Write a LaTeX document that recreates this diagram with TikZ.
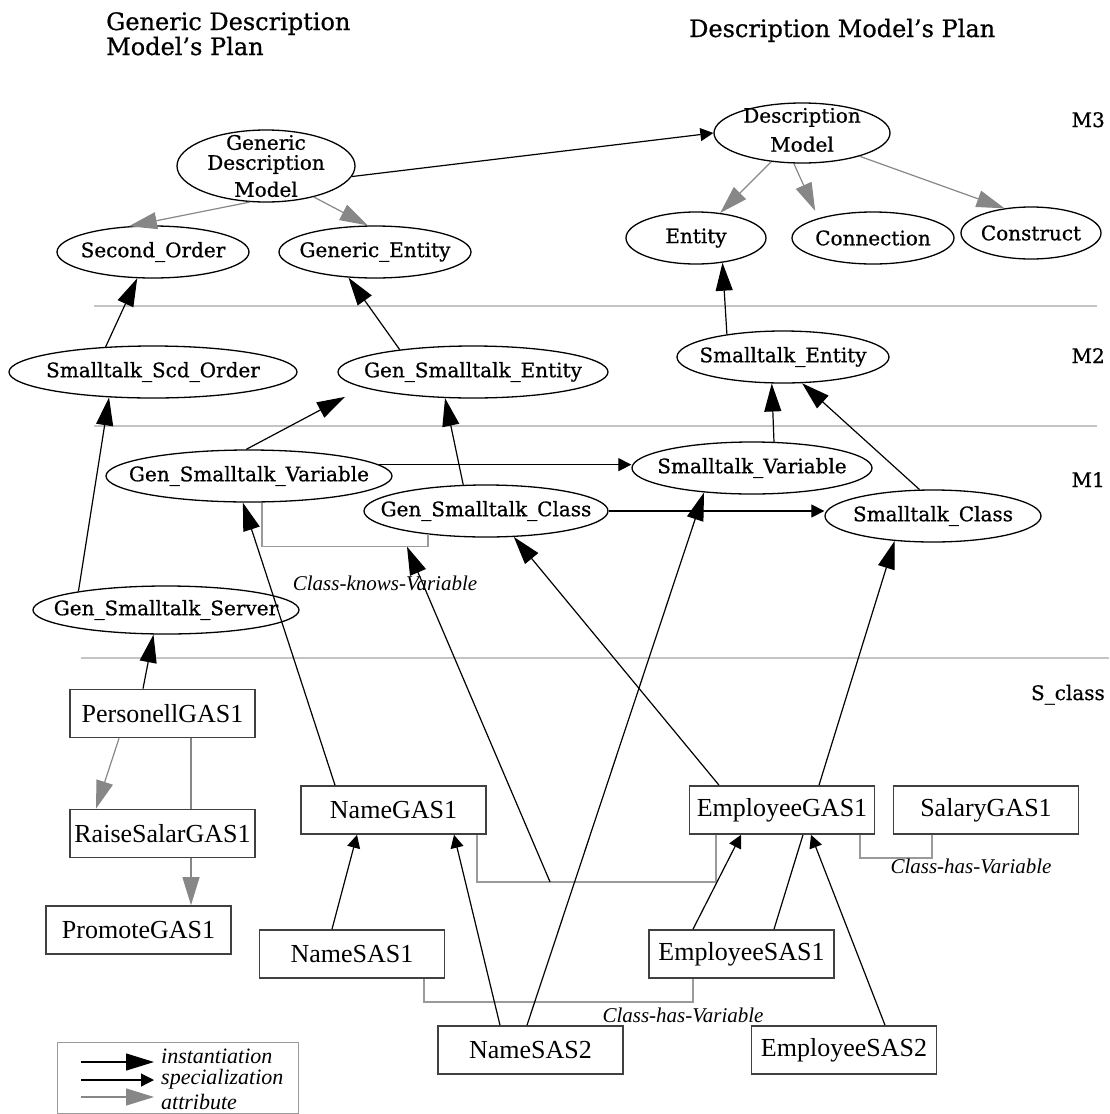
\documentclass[tikz,border=0pt]{standalone}
\usepackage{fontspec}
\setmainfont{Liberation Serif}
\newfontfamily\dvs[FakeBold=0.7]{DejaVu Serif}
\usetikzlibrary{arrows.meta,shapes.geometric,calc}

\definecolor{sepgray}{HTML}{C4C4C4}
\definecolor{attrgray}{HTML}{878787}
\definecolor{brgray}{HTML}{9A9A9A}
\definecolor{boxline}{HTML}{404040}

\begin{document}
\begin{tikzpicture}[x=1pt,y=-1pt,
  etext/.style={font=\dvs\fontsize{20}{20}\selectfont, inner sep=0pt, align=center},
  ell/.style n args={3}{ellipse, draw, line width=1.3pt, inner sep=0pt,
    minimum width=#1, minimum height=#2, label={[etext]center:#3}},
  gbox/.style={rectangle, draw=boxline, line width=1.7pt, minimum width=185pt,
    minimum height=48pt, inner sep=0pt, font=\fontsize{26}{28}\selectfont},
  inst/.style={draw=black, line width=1.2pt, -{Triangle[length=28pt,width=17pt]}},
  spec/.style={draw=black, line width=1.2pt, -{Triangle[length=13pt,width=13pt]}},
  attr/.style={draw=attrgray, line width=1.2pt, -{Triangle[length=28pt,width=17pt]}},
  blackline/.style={draw=black, line width=1.2pt},
  attrline/.style={draw=attrgray, line width=1.2pt},
  bracket/.style={draw=brgray, line width=1.5pt},
  sepline/.style={draw=sepgray, line width=2pt},
  ttl/.style={font=\dvs\fontsize{24}{25}\selectfont, inner sep=0pt},
  lvl/.style={font=\dvs\fontsize{20}{20}\selectfont, inner sep=0pt},
  lbl/.style={font=\itshape\fontsize{21}{22}\selectfont, inner sep=0pt},
  legtext/.style={font=\itshape\fontsize{22}{22}\selectfont, inner sep=0pt}
]
\useasboundingbox (0,0) rectangle (1109,1114);

% plan titles
\node[ttl, anchor=base west] (t1a) at (106,30) {Generic Description};
\node[ttl, anchor=base west] (t1b) at (106,55) {Model’s Plan};
\node[ttl, anchor=base west] (t2) at (689,37) {Description Model’s Plan};

% level separators and level names
\draw[sepline] (94,306) -- (1097,306);
\draw[sepline] (94,426) -- (1097,426);
\draw[sepline] (81,658) -- (1109,658);
\node[lvl, anchor=base east] (m3) at (1105,127) {M3};
\node[lvl, anchor=base east] (m2) at (1105,363) {M2};
\node[lvl, anchor=base east] (m1) at (1105,487) {M1};
\node[lvl, anchor=base east] (scl) at (1105,700) {S\_class};

% M3
\node[ell={178pt}{72pt}{Generic\\Description\\[7pt]Model}] (gdm) at (266,166) {};
\node[ellipse, draw, line width=1.3pt, inner sep=0pt, minimum width=176pt, minimum height=60pt,
  label={[etext,yshift=3pt]center:Description\\[9pt]Model}] (dm) at (802,133) {};
\node[ell={192pt}{52pt}{Second\_Order}] (so) at (153,252) {};
\node[ell={192pt}{52pt}{Generic\_Entity}] (ge) at (375,252) {};
\node[ell={140pt}{52pt}{Entity}] (ent) at (696,238) {};
\node[ell={162pt}{52pt}{Connection}] (con) at (873,238) {};
\node[ell={140pt}{52pt}{Construct}] (cst) at (1031,233) {};

% M2
\node[ell={288pt}{52pt}{Smalltalk\_Scd\_Order}] (sso) at (153,372) {};
\node[ell={270pt}{52pt}{Gen\_Smalltalk\_Entity}] (gse) at (473,372) {};
\node[ell={212pt}{52pt}{Smalltalk\_Entity}] (se) at (783,357) {};

% M1
\node[ell={286pt}{52pt}{Gen\_Smalltalk\_Variable}] (gsv) at (249,476) {};
\node[ell={240pt}{52pt}{Smalltalk\_Variable}] (sv) at (752,468) {};
\node[ell={244pt}{52pt}{Gen\_Smalltalk\_Class}] (gsc) at (486,511) {};
\node[ell={216pt}{52pt}{Smalltalk\_Class}] (sc) at (933,516) {};
\node[ell={266pt}{48pt}{Gen\_Smalltalk\_Server}] (gss) at (166,610) {};

% S_class
\node[gbox] (pers) at (162.5,713.5) {PersonellGAS1};
\node[gbox] (raise) at (162.5,833.5) {RaiseSalarGAS1};
\node[gbox] (prom) at (138.5,930) {PromoteGAS1};
\node[gbox] (ng1) at (393.5,810) {NameGAS1};
\node[gbox] (eg1) at (782,810) {EmployeeGAS1};
\node[gbox] (sg1) at (986,810) {SalaryGAS1};
\node[gbox] (ns1) at (352,954) {NameSAS1};
\node[gbox] (es1) at (741.5,954) {EmployeeSAS1};
\node[gbox] (ns2) at (530.5,1050) {NameSAS2};
\node[gbox] (es2) at (844,1050) {EmployeeSAS2};

% attribute connections drawn as brackets
\draw[bracket] ([xshift=13pt]gsv.south) -- ++(0,44) coordinate (ckvA) -| (gsc.202);
\coordinate (ckvTip) at ($(ckvA)+(145,0)$);
\draw[bracket] ([xshift=83.5pt]ng1.south) -- ++(0,47) coordinate (chvA) -| ([xshift=-66pt]eg1.south);
\coordinate (chvMid) at ($(chvA)+(73,0)$);
\draw[bracket] ([xshift=78pt]eg1.south) -- ++(0,23) -| ([xshift=-54pt]sg1.south);
\draw[bracket] ([xshift=72pt]ns1.south) -- ++(0,23) -| ([xshift=-48.5pt]es1.south);
\node[lbl] (lck) at (385,583) {Class-knows-Variable};
\node[lbl] (lch1) at (971,866) {Class-has-Variable};
\node[lbl] (lch2) at (683,1015) {Class-has-Variable};

% M3 connectors
\draw[spec] (gdm.353) -- (dm.west);
\draw[attr] (gdm.246) -- (so.133);
\draw[attr] (gdm.327) -- (ge.105);
\draw[attr] (dm.223) -- (ent.46);
\draw[attr, shorten >=8pt] (dm.255) -- (con.160);
\draw[attr] (dm.338) -- (cst.137);

% M2 / M1 connectors
\draw[inst] (sso.152) -- (so.239);
\draw[inst] (gse.163) -- (ge.224);
\draw[inst] (se.158) -- (ent.317);
\draw[inst, shorten >=20pt] (gsv.96) -- (gse.188);
\draw[inst] (gsc.131) -- (gse.223);
\draw[inst] (sv.50) -- (se.247);
\draw[inst] (sc.117) -- (se.306);
\draw[inst] (gss.168) -- (sso.210);
\draw[spec] (gsv.5) -- (gsv.5 -| sv.west);
\draw[spec] (gsc.east) -- (gsc.east -| sc.west);

% S_class connectors
\draw[inst] ([xshift=-19.5pt]pers.north) -- (gss.243);
\draw[inst] ([xshift=-58.5pt]ng1.north) -- (gsv.257);
\draw[inst] (chvMid) -- (ckvTip);
\draw[inst] ([xshift=-63pt]eg1.north) -- (gsc.317);
\draw[inst] ([xshift=37pt]eg1.north) -- (sc.213);
\draw[inst] ([xshift=-3.5pt]ns2.north) -- (sv.207);
\draw[spec] ([xshift=-20pt]ns1.north) -- ([xshift=-36.5pt]ng1.south);
\draw[spec] ([xshift=-30.5pt]ns2.north) -- ([xshift=60.5pt]ng1.south);
\draw[spec] ([xshift=-48.5pt]es1.north) -- ([xshift=-41pt]eg1.south);
\draw[spec] ([xshift=41pt]es2.north) -- ([xshift=29pt]eg1.south);
\draw[blackline] ([xshift=32.5pt]es1.north) -- ([xshift=21pt]eg1.south);
\draw[attr] ([xshift=-43.5pt]pers.south) -- ([xshift=-66.5pt]raise.north);
\draw[attrline] ([xshift=28.5pt]pers.south) -- ([xshift=28.5pt]raise.north);
\draw[attr] ([xshift=28.5pt]raise.south) -- ([xshift=52.5pt]prom.north);

% legend
\node[draw=brgray, line width=1.3pt, minimum width=241pt, minimum height=71pt,
  inner sep=0pt, anchor=north west] (legend) at (57,1042) {};
\node[legtext, anchor=base west] (lgi) at (161,1063) {instantiation};
\node[legtext, anchor=base west] (lgs) at (161,1084) {specialization};
\node[legtext, anchor=base west] (lga) at (161,1109) {attribute};
\coordinate (lgi0) at (81,1062);
\coordinate (lgi1) at (154,1062);
\coordinate (lgs0) at (81,1080);
\coordinate (lgs1) at (154,1080);
\coordinate (lga0) at (81,1097);
\coordinate (lga1) at (154,1097);
\draw[inst] (lgi0) -- (lgi1);
\draw[spec] (lgs0) -- (lgs1);
\draw[attr] (lga0) -- (lga1);
\end{tikzpicture}
\end{document}
